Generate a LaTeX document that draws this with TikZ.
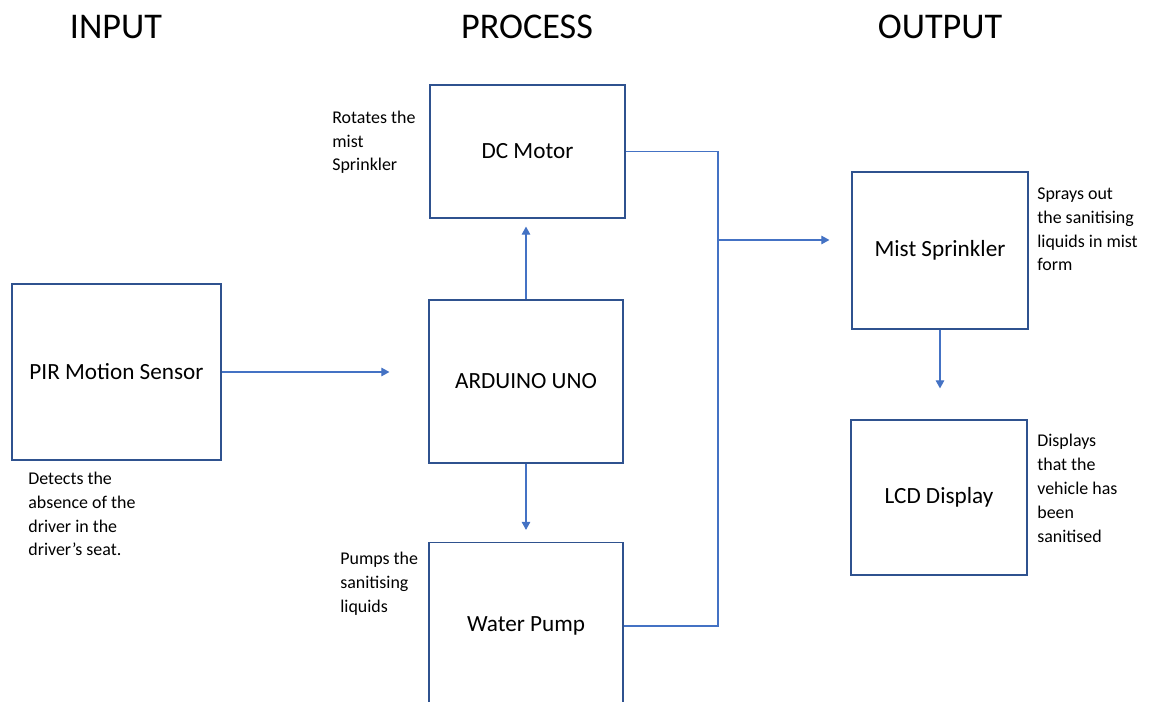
\documentclass[tikz,border=0pt]{standalone}
\usepackage{fontspec}
\setmainfont{Carlito}
\usetikzlibrary{arrows.meta, calc}
\definecolor{edge}{HTML}{2F528F}
\definecolor{wire}{HTML}{4472C4}
\tikzset{
  blk/.style={draw=edge, line width=0.7pt, inner sep=0pt, font=\fontsize{13.2}{16}\selectfont},
  hdr/.style={font=\fontsize{20.6}{24}\selectfont, inner sep=0pt},
  note/.style={anchor=base west, align=left, inner sep=0pt, font=\fontsize{10.2}{13.6}\selectfont},
  con/.style={draw=wire, line width=0.6pt},
  tra/.style={con, -{Triangle[length=1.6mm, width=1.7mm]}}
}
\begin{document}
\begin{tikzpicture}[x=0.02cm, y=-0.02cm]
	\useasboundingbox (0,0) rectangle (1157,702);
	\clip (0,0) rectangle (1157,702);
	% column titles
	\node[hdr] (tin) at (116,27) {INPUT};
	\node[hdr] (tpr) at (527,27) {PROCESS};
	\node[hdr] (tout) at (940,27) {OUTPUT};
	% blocks
	\node[blk, minimum width=4.18cm, minimum height=3.52cm] (pir) at (116.5,372) {PIR Motion Sensor};
	\node[blk, minimum width=3.90cm, minimum height=2.66cm] (dc) at (527.5,151.5) {DC Motor};
	\node[blk, minimum width=3.88cm, minimum height=3.26cm] (ard) at (526,381.5) {ARDUINO UNO};
	\node[blk, minimum width=3.88cm, minimum height=3.34cm] (wp) at (526,626) {Water Pump};
	\node[blk, minimum width=3.52cm, minimum height=3.14cm] (mist) at (940,250.5) {Mist Sprinkler};
	\node[blk, minimum width=3.52cm, minimum height=3.10cm] (lcd) at (939,497.5) {LCD Display};
	% notes (placed at the baseline of their last line)
	\node[note] (npir) at (28,556) {Detects the\\absence of the\\driver in the\\driver’s seat.};
	\node[note] (ndc) at (332,171) {Rotates the\\mist\\Sprinkler};
	\node[note] (nwp) at (340,612) {Pumps the\\sanitising\\liquids};
	\node[note] (nmist) at (1037,271) {Sprays out\\the sanitising\\liquids in mist\\form};
	\node[note] (nlcd) at (1037,542) {Displays\\that the\\vehicle has\\been\\sanitised};
	% connections
	\coordinate (bus) at (718,240);
	\draw[tra, shorten >=0.78cm] (pir.east) -- (pir.east -| ard.west);
	\draw[tra, shorten >=0.16cm] (ard.north) -- (ard.north |- dc.south);
	\draw[tra, shorten >=0.24cm] (ard.south) -- (ard.south |- wp.north);
	\draw[con] (dc.east) -| (bus) |- (wp.east);
	\draw[tra, shorten >=0.44cm] (bus) -- (bus -| mist.west);
	\draw[tra, shorten >=0.62cm] (mist.south) -- (mist.south |- lcd.north);
\end{tikzpicture}
\end{document}
